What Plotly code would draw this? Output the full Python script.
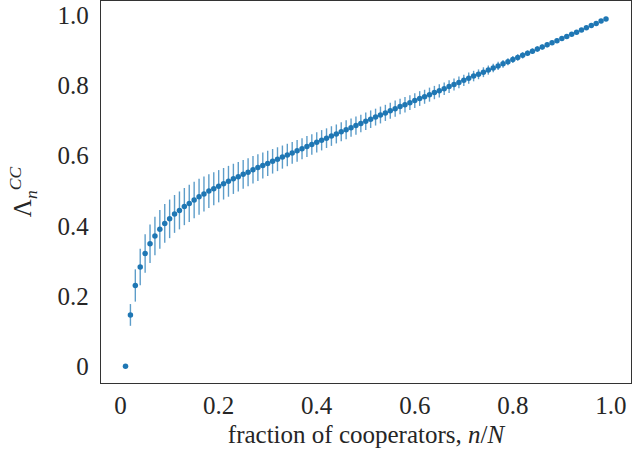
import plotly.graph_objects as go

# fraction of cooperators n/N
frac = [i / 100 for i in range(1, 100)]

# Lambda_n^CC mean values
lam = [
    0.000, 0.146, 0.230, 0.283, 0.321, 0.349, 0.371, 0.390, 0.407, 0.420,
    0.434, 0.444, 0.455, 0.464, 0.474, 0.483, 0.491, 0.499, 0.506, 0.513,
    0.520, 0.527, 0.534, 0.540, 0.547, 0.553, 0.560, 0.566, 0.572, 0.578,
    0.584, 0.590, 0.596, 0.602, 0.608, 0.614, 0.620, 0.626, 0.632, 0.638,
    0.644, 0.650, 0.656, 0.662, 0.668, 0.674, 0.680, 0.686, 0.692, 0.698,
    0.704, 0.710, 0.716, 0.722, 0.728, 0.734, 0.740, 0.745, 0.751, 0.757,
    0.763, 0.768, 0.774, 0.780, 0.785, 0.791, 0.797, 0.803, 0.809, 0.815,
    0.821, 0.827, 0.832, 0.838, 0.844, 0.850, 0.856, 0.862, 0.868, 0.874,
    0.880, 0.886, 0.892, 0.898, 0.904, 0.910, 0.916, 0.922, 0.928, 0.934,
    0.940, 0.946, 0.952, 0.958, 0.965, 0.971, 0.977, 0.984, 0.990,
]

# error bar half-lengths
err = [
    0.000, 0.031, 0.046, 0.052, 0.055, 0.055, 0.055, 0.055, 0.055, 0.055,
    0.054, 0.054, 0.053, 0.053, 0.052, 0.051, 0.050, 0.048, 0.047, 0.046,
    0.045, 0.044, 0.043, 0.042, 0.041, 0.040, 0.039, 0.038, 0.037, 0.036,
    0.035, 0.034, 0.033, 0.032, 0.031, 0.031, 0.030, 0.030, 0.029, 0.029,
    0.029, 0.028, 0.028, 0.027, 0.027, 0.027, 0.026, 0.026, 0.025, 0.025,
    0.025, 0.024, 0.024, 0.023, 0.023, 0.023, 0.022, 0.022, 0.021, 0.021,
    0.021, 0.020, 0.020, 0.019, 0.019, 0.018, 0.018, 0.017, 0.017, 0.016,
    0.016, 0.015, 0.014, 0.014, 0.013, 0.012, 0.012, 0.011, 0.010, 0.010,
    0.009, 0.009, 0.008, 0.008, 0.008, 0.007, 0.007, 0.006, 0.006, 0.006,
    0.005, 0.005, 0.004, 0.004, 0.003, 0.003, 0.002, 0.002, 0.001,
]

tick_vals = [0, 0.2, 0.4, 0.6, 0.8, 1.0]
tick_text = ["0", "0.2", "0.4", "0.6", "0.8", "1.0"]

blue = "#1f77b4"
FONT = "Liberation Serif, Times New Roman, serif"

fig = go.Figure()
fig.add_trace(go.Scatter(
    x=frac, y=lam, mode="markers",
    marker=dict(color=blue, size=5.5, line=dict(width=0)),
    error_y=dict(type="data", array=err, visible=True, thickness=1.4,
                 width=0, color="rgba(31,119,180,0.72)"),
    showlegend=False,
))

axis_common = dict(
    showgrid=False, zeroline=False, showline=True, mirror=True,
    linecolor="#333333", linewidth=1.3,
    tickfont=dict(family=FONT, size=25, color="#262626"),
    automargin=False,
)

fig.update_layout(
    width=632, height=450,
    margin=dict(l=101, r=1, t=1, b=67),
    paper_bgcolor="white", plot_bgcolor="white",
    font=dict(family=FONT, color="#262626"),
    xaxis=dict(
        range=[-0.040, 1.041], tickvals=tick_vals, ticktext=tick_text,
        ticks="",
        title=dict(text="fraction of cooperators, <i>n</i>/<i>N</i>",
                   font=dict(family=FONT, size=25, color="#262626"), standoff=7),
        **axis_common,
    ),
    yaxis=dict(
        range=[-0.048, 1.041], tickvals=tick_vals, ticktext=tick_text,
        ticks="outside", ticklen=6, tickcolor="rgba(0,0,0,0)",
        title=dict(text="Λ<sub><i>n</i></sub><sup><i>CC</i></sup>",
                   font=dict(family=FONT, size=25, color="#262626"), standoff=18),
        **axis_common,
    ),
)

fig.write_html("out.html", config={"displayModeBar": False},
               post_script="document.body.style.margin='0';")
